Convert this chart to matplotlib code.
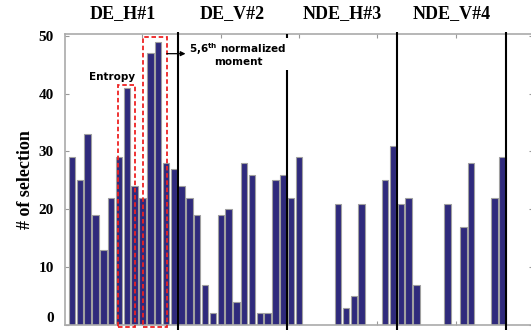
import numpy as np
import matplotlib.pyplot as plt
from matplotlib.patches import Rectangle

# number of selections per feature slot (4 groups of 14 features)
groups = ["DE_H#1", "DE_V#2", "NDE_H#3", "NDE_V#4"]
n_per_group = 14
counts = [29, 25, 33, 19, 13, 22, 29, 41, 24, 22, 47, 49, 28, 27,
          24, 22, 19, 7, 2, 19, 20, 4, 28, 26, 2, 2, 25, 26,
          22, 29, 0, 0, 0, 0, 21, 3, 5, 21, 0, 0, 25, 31,
          21, 22, 7, 0, 0, 0, 21, 0, 17, 28, 0, 0, 22, 29]
yticks = [0, 10, 20, 30, 40, 50]

# highlighted feature ranges (x from, x to, top)
entropy_box = [6.9, 9.1, 41.5]
moment_box = [10.1, 13.1, 49.8]

serif = "Liberation Serif"
sans = "DejaVu Sans"

fig = plt.figure(figsize=(5.31, 3.30), dpi=100)
ax = fig.add_axes([65/531, 5/330, 468/531, 291/330])

x = np.arange(1, len(counts) + 1)
c = np.array(counts)
keep = c > 0
ax.bar(x[keep], c[keep], width=0.82, color="#2f2a7c", edgecolor="#a0a0a0", linewidth=0.8, zorder=2)

ax.set_xlim(0.1, 59.9)
ax.set_ylim(0, 50.3)
ax.set_yticks(yticks)
ax.set_yticklabels([str(v) for v in yticks], fontfamily=serif, fontweight="bold", fontsize=11)
# the "0" label sits above its tick in the original
ax.get_yticklabels()[0].set_va("bottom")
ax.set_xticks([10, 20, 30, 40, 50])
ax.set_xticklabels([])
ax.tick_params(direction="in", length=3, color="#999999", top=True, right=True, pad=8)
for s in ax.spines.values():
    s.set_color("#aaaaaa")
    s.set_linewidth(1.2)

ax.set_ylabel("# of selection", fontfamily=serif, fontweight="bold", fontsize=13, labelpad=3)

# group separators
ymax = ax.get_ylim()[1]
for i in range(1, len(groups) + 1):
    xb = i * n_per_group + 0.5
    if i == 2:
        ax.vlines(xb, -1, 44.1, color="black", lw=1.5, clip_on=False, zorder=3)
        ax.vlines(xb, 49.6, ymax, color="black", lw=1.5, clip_on=False, zorder=3)
    else:
        ax.vlines(xb, -1, ymax + 0.3, color="black", lw=1.5, clip_on=False, zorder=3)

# group titles
trans = ax.get_xaxis_transform()
for i, g in enumerate(groups):
    xc = i * n_per_group + (n_per_group + 1) / 2
    ax.text(xc, 1.07, g, transform=trans, ha="center", va="center",
            fontfamily=serif, fontweight="bold", fontsize=13)

# highlight boxes
for b in [entropy_box, moment_box]:
    ax.add_patch(Rectangle((b[0], -0.3), b[1] - b[0], b[2] + 0.3, fill=False,
                           edgecolor="#ee2222", linestyle=(0, (2.5, 1.5)), lw=1.3,
                           clip_on=False, zorder=4))

ax.text(6.1, 42.8, "Entropy", ha="center", va="center", fontfamily=sans,
        fontweight="bold", fontsize=7.5)
ax.annotate("", xy=(15.5, 46.9), xytext=(moment_box[1], 46.9),
            arrowprops=dict(arrowstyle="-|>", color="black", lw=0.9, mutation_scale=7,
                            shrinkA=0, shrinkB=0), zorder=5)
ax.text(22.2, 46.8, "5,6$^{\\mathbf{th}}$ normalized\nmoment", ha="center", va="center",
        fontfamily=sans, fontweight="bold", fontsize=7.5, linespacing=1.0)

fig.savefig("out.png", dpi=100)
